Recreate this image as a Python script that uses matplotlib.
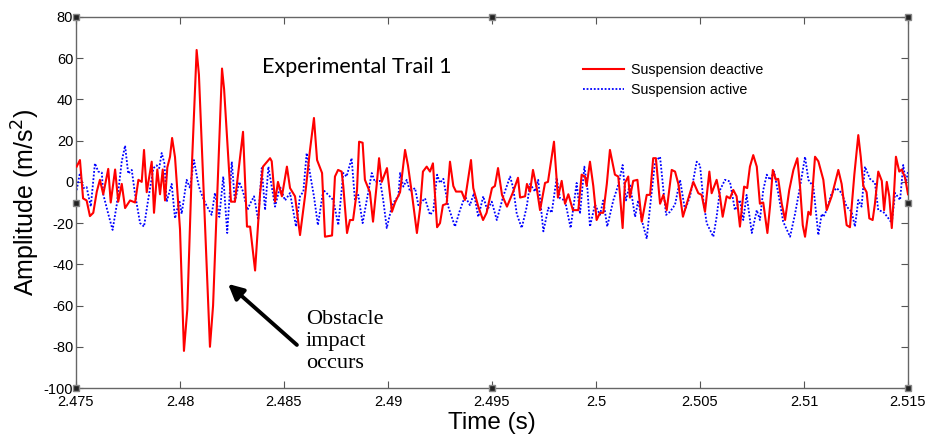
import matplotlib
matplotlib.use("Agg")
import matplotlib.pyplot as plt
from matplotlib.ticker import FuncFormatter

# ---- data ----
t_deactive = [2.47503, 2.47519, 2.47534, 2.47551, 2.47567, 2.47583, 2.47600, 2.47615, 2.47631, 2.47655,
              2.47667, 2.47688, 2.47703, 2.47720, 2.47736, 2.47760, 2.47784, 2.47800, 2.47816, 2.47827,
              2.47840, 2.47864, 2.47875, 2.47891, 2.47904, 2.47917, 2.47928, 2.47939, 2.47952, 2.47962,
              2.47976, 2.48000, 2.48019, 2.48035, 2.48058, 2.48080, 2.48091, 2.48144, 2.48159, 2.48202,
              2.48212, 2.48245, 2.48264, 2.48303, 2.48322, 2.48337, 2.48361, 2.48385, 2.48399, 2.48433,
              2.48441, 2.48457, 2.48471, 2.48490, 2.48514, 2.48529, 2.48553, 2.48577, 2.48601, 2.48625,
              2.48644, 2.48659, 2.48683, 2.48697, 2.48731, 2.48745, 2.48760, 2.48777, 2.48785, 2.48803,
              2.48817, 2.48832, 2.48851, 2.48861, 2.48878, 2.48889, 2.48913, 2.48928, 2.48947, 2.48957,
              2.48970, 2.48995, 2.49019, 2.49034, 2.49058, 2.49082, 2.49096, 2.49114, 2.49139, 2.49154,
              2.49168, 2.49186, 2.49202, 2.49216, 2.49236, 2.49250, 2.49264, 2.49282, 2.49298, 2.49314,
              2.49327, 2.49354, 2.49370, 2.49399, 2.49410, 2.49434, 2.49457, 2.49474, 2.49500, 2.49514,
              2.49529, 2.49548, 2.49572, 2.49601, 2.49625, 2.49635, 2.49659, 2.49668, 2.49683, 2.49697,
              2.49715, 2.49731, 2.49755, 2.49769, 2.49798, 2.49817, 2.49835, 2.49851, 2.49867, 2.49889,
              2.49915, 2.49931, 2.49947, 2.49955, 2.49971, 2.49987, 2.50003, 2.50019, 2.50035, 2.50052,
              2.50067, 2.50091, 2.50107, 2.50115, 2.50128, 2.50139, 2.50155, 2.50163, 2.50179, 2.50199,
              2.50220, 2.50244, 2.50260, 2.50275, 2.50288, 2.50308, 2.50324, 2.50340, 2.50364, 2.50380,
              2.50396, 2.50418, 2.50444, 2.50468, 2.50492, 2.50508, 2.50524, 2.50545, 2.50556, 2.50580,
              2.50596, 2.50609, 2.50628, 2.50644, 2.50660, 2.50676, 2.50692, 2.50712, 2.50727, 2.50740,
              2.50756, 2.50773, 2.50788, 2.50804, 2.50824, 2.50837, 2.50850, 2.50865, 2.50876, 2.50893,
              2.50909, 2.50929, 2.50949, 2.50968, 2.50981, 2.50994, 2.51005, 2.51021, 2.51032, 2.51053,
              2.51069, 2.51093, 2.51109, 2.51133, 2.51165, 2.51181, 2.51205, 2.51221, 2.51242, 2.51261,
              2.51273, 2.51285, 2.51301, 2.51314, 2.51330, 2.51341, 2.51357, 2.51374, 2.51385, 2.51398,
              2.51410, 2.51422, 2.51433, 2.51442, 2.51458, 2.51470, 2.51486, 2.51500]
a_deactive = [7.4, 10.6, -8, -9, -16.6, -15, -4.7, 1, -6, 6.3,
              -10, 6, -9.6, -1, -12.7, -9, -10, 1, 0, 15.5,
              -5, 9.8, -15, 6, -6, 6, -9, 7, 12.2, 21.3,
              12, -23, -82, -62, 10, 64, 52, -80, -60, 55,
              45, -9.6, -9.6, 24.3, -21.7, -21.7, -43, -5.5, 7.4, 11.5,
              10, -9.6, 0, -7, 7.4, -3, -7, -25.8, -7, 15.5,
              31, 10.6, 4.3, -26.6, -26, 2.6, 5.8, 5, -2, -24.8,
              -18.5, -18.5, -3.9, 19.5, 19, 1, -5, -19.3, 0, 11.5,
              0, 6.7, -14.5, -10, -5, 15.5, 8, -5, -24.8, -13,
              5, 7.4, 5, 9, -22, -20, -11.3, -10.6, 9.8, -2,
              -4.7, -4.7, -8.8, 10.6, -3, -12, -18.5, -15, -3, -2,
              6.7, -6.3, -12, -5, 2, -7.6, -7, -1, -4.7, 5.8,
              -3, -13.7, -0.5, 0, 19.5, -7.6, 0.5, -10.6, -6, -13.7,
              -13.7, 3.5, 2.6, -2, 9.8, -2, -18.5, -15, -15, -1,
              15.5, 3.5, 2.6, -6, -22.4, -0.5, 2.6, -7.6, 0.5, 1,
              -19.3, -6.3, -6.3, 11.5, 11.5, -10.6, -6.3, -13.7, 5.8, 5,
              -1, -16.9, -8, 0, -5.5, -6.3, -14.5, 5, -5.5, 1,
              -7, -16.9, -7, -8, -3.9, -7, -21.7, -2.3, -3, 7.4,
              13, 7.4, -10.6, -10, -24.8, -11.5, 5.8, 1, 1.5, -10.6,
              -18.5, -4, 5.8, 11.5, -2.3, -21, -26.6, -14.5, -16, 12.2,
              10, 1, -13.7, -7, 5.8, -1, -21, -22, 3.5, 22.7,
              12, -2, -5, -17.7, -18.5, -10.6, 5, 0.5, -13.7, 0,
              -7, -22.4, -5, 12.2, 5, 6, 2, -6]

t_active = [2.47503, 2.47519, 2.47535, 2.47551, 2.47571, 2.47591, 2.47607, 2.47624, 2.47631, 2.47655,
            2.47676, 2.47696, 2.47720, 2.47736, 2.47751, 2.47768, 2.47784, 2.47808, 2.47827, 2.47848,
            2.47872, 2.47888, 2.47900, 2.47912, 2.47925, 2.47936, 2.47960, 2.47976, 2.47997, 2.48008,
            2.48032, 2.48048, 2.48067, 2.48087, 2.48096, 2.48120, 2.48152, 2.48168, 2.48189, 2.48208,
            2.48227, 2.48249, 2.48264, 2.48285, 2.48304, 2.48324, 2.48337, 2.48356, 2.48376, 2.48393,
            2.48409, 2.48425, 2.48457, 2.48481, 2.48505, 2.48529, 2.48558, 2.48577, 2.48593, 2.48609,
            2.48625, 2.48644, 2.48663, 2.48689, 2.48713, 2.48737, 2.48761, 2.48785, 2.48801, 2.48825,
            2.48841, 2.48857, 2.48878, 2.48898, 2.48922, 2.48937, 2.48962, 2.48977, 2.48994, 2.49018,
            2.49034, 2.49050, 2.49058, 2.49074, 2.49090, 2.49106, 2.49130, 2.49146, 2.49178, 2.49202,
            2.49218, 2.49236, 2.49250, 2.49266, 2.49290, 2.49322, 2.49346, 2.49370, 2.49394, 2.49413,
            2.49434, 2.49458, 2.49477, 2.49499, 2.49523, 2.49554, 2.49587, 2.49602, 2.49619, 2.49643,
            2.49667, 2.49683, 2.49707, 2.49722, 2.49747, 2.49771, 2.49787, 2.49811, 2.49827, 2.49851,
            2.49878, 2.49907, 2.49923, 2.49944, 2.49958, 2.49971, 2.49995, 2.50019, 2.50035, 2.50054,
            2.50083, 2.50107, 2.50128, 2.50144, 2.50163, 2.50188, 2.50203, 2.50220, 2.50244, 2.50260,
            2.50284, 2.50308, 2.50324, 2.50337, 2.50356, 2.50380, 2.50404, 2.50428, 2.50452, 2.50468,
            2.50484, 2.50500, 2.50516, 2.50532, 2.50564, 2.50580, 2.50596, 2.50620, 2.50644, 2.50668,
            2.50692, 2.50708, 2.50724, 2.50749, 2.50773, 2.50788, 2.50804, 2.50821, 2.50837, 2.50856,
            2.50876, 2.50900, 2.50933, 2.50957, 2.50981, 2.51005, 2.51021, 2.51045, 2.51069, 2.51085,
            2.51093, 2.51109, 2.51133, 2.51157, 2.51181, 2.51205, 2.51229, 2.51245, 2.51261, 2.51277,
            2.51293, 2.51317, 2.51341, 2.51357, 2.51381, 2.51401, 2.51422, 2.51438, 2.51462, 2.51477,
            2.51490, 2.51500]
a_active = [-4, 4.3, -3, -2.5, -12, 9, 5, 4.5, -6, -15.5,
            -23.3, -11, 10, 17.6, 4, 5.8, -6, -20, -21.7, -8,
            6.7, 8, 6.7, 14, 9, -9.6, -1, -17.7, -9, -15.5,
            1, -3, 10.6, -0.5, -4, -10, -16, -5.4, -17, 2.6,
            -24.8, 9.8, -9.6, 0, -5, -13.7, -10.6, -7, -18.5, 6.7,
            -13.7, 7.4, -12, -2.3, -9, -5.4, -21.7, -7, -4.7, 14,
            4, -7, -21, -3.9, -6.3, -8.8, -21, 4.3, 2.6, 11.5,
            -8.8, -6.3, -20, -8.8, 4.3, 0, 0.5, -8.8, -22.4, -12,
            -8.8, -7, 4.3, -2.3, 1, -4.7, -3, -11.3, -8, -16,
            -14, 3.5, -0.5, 1.5, -12, -21.7, -13.7, -7, -11.3, -5.5,
            -17, -7, -13.7, -9.6, -18.5, -7, 2.6, -3, -15.5, -22.4,
            -12, -1, -4.7, 1, -24, -12.5, -15, 2, -8, -9,
            -22.4, -0.5, -15.5, 7.4, -2.3, -21.7, -11, -16, -9, -21.7,
            -9, -1.5, 8.2, -9, -1, -17, -9, -18.5, -27.6, -12,
            9.8, 12.2, -3.9, -16, -14.5, -11, 1, -13.7, -7, 1,
            9.8, 8.2, -8.8, -20, -26.6, -16.9, -4, 1, 0.2, -13.7,
            -8.8, -18.5, -6.3, -24.8, -13.7, -18.5, -4, 3.5, 1, 5,
            -5.4, -19.3, -26.6, -15.5, -2.3, 12.2, 1, -2.3, -25.8, -15.5,
            -17, -13.7, -5.4, -3, -5.4, -12, -14.5, -21.7, -8.8, -12,
            7.4, 1.5, -0.5, -13.7, -14.5, -17, -20, -5.4, -8.8, 8.2,
            -0.5, 5]

x_ticks = [2.475, 2.48, 2.485, 2.49, 2.495, 2.5, 2.505, 2.51, 2.515]
y_ticks = [-100, -80, -60, -40, -20, 0, 20, 40, 60, 80]
series_labels = ["Suspension deactive", "Suspension active"]
title_text = "Experimental Trail 1"
note_text = "Obstacle\nimpact\noccurs"

# ---- figure ----
plt.rcParams['font.family'] = ['Liberation Sans', 'DejaVu Sans']
plt.rcParams['axes.unicode_minus'] = False
fig = plt.figure(figsize=(9.29, 4.38), dpi=100)
ax = fig.add_axes([76/929, 1-388/438, (908-76)/929, (388-17)/438])

ax.plot(t_deactive, a_deactive, color='#ff0000', lw=1.5, label=series_labels[0], zorder=3)
ax.plot(t_active, a_active, color='#0000ff', lw=1.3, ls=(0, (1, 1)), label=series_labels[1], zorder=2)

ax.set_xlim(x_ticks[0], x_ticks[-1])
ax.set_ylim(y_ticks[0], y_ticks[-1])
ax.set_xticks(x_ticks)
ax.set_yticks(y_ticks)
ax.xaxis.set_major_formatter(FuncFormatter(lambda v, p: f"{v:g}"))
ax.tick_params(direction='in', length=5, top=True, right=True, labelsize=10.5,
               color='#555555')
ax.tick_params(axis='x', pad=5)
ax.tick_params(axis='y', pad=2)
for s in ax.spines.values():
    s.set_color('#666666')
    s.set_linewidth(1.0)

ax.set_xlabel("Time (s)", fontsize=17.5, labelpad=2)
ax.set_ylabel("Amplitude (m/s$^2$)", fontsize=18, labelpad=1)

ax.text(2.48394, 55.7, title_text, fontsize=15.5, family=['Lato', 'DejaVu Sans'],
        va='center', ha='left')

leg = ax.legend(loc='upper left', bbox_to_anchor=(0.609, 0.875), frameon=False,
                fontsize=10.3, handlelength=2.9, handletextpad=0.45, labelspacing=0.42,
                borderaxespad=0, borderpad=0)

ax.annotate("", xy=(2.48231, -49.5), xytext=(2.48562, -79.1),
            arrowprops=dict(arrowstyle='-|>,head_length=0.9,head_width=0.45',
                            color='black', lw=2.8, shrinkA=0, shrinkB=0))
ax.text(2.48604, -77.4, note_text, fontsize=16, family=['Liberation Serif', 'DejaVu Serif'],
        va='center', ha='left', linespacing=1.2)

# small selection handles at the frame (as in the MATLAB figure)
hx = [0, 0.5, 1, 0, 1, 0, 0.5, 1]
hy = [1, 1, 1, 0.5, 0.5, 0, 0, 0]
ax.plot(hx, hy, ls='none', marker='s', ms=4, mfc='#222222', mec='#888888',
        transform=ax.transAxes, clip_on=False, zorder=5)

fig.savefig("out.png", dpi=100)
